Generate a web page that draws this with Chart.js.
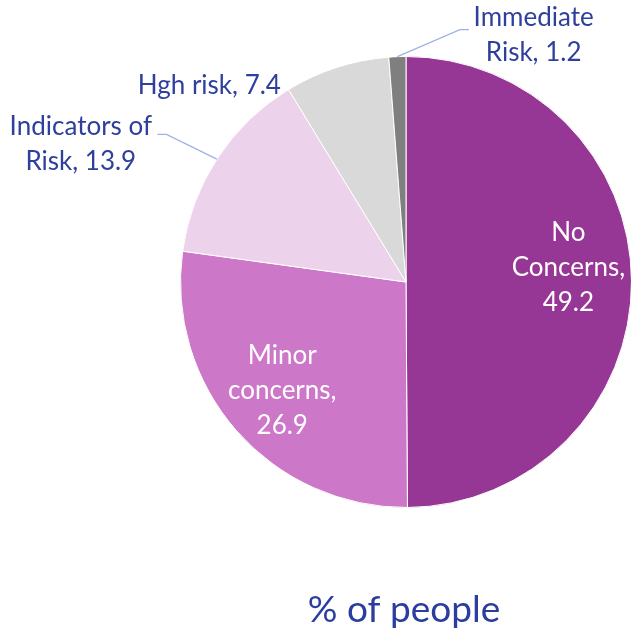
<!DOCTYPE html>
<html>
<head>
<meta charset="utf-8">
<script src="https://cdn.jsdelivr.net/npm/chart.js@4"></script>
<style>
html,body{margin:0;padding:0;background:#fff;overflow:hidden;width:631px;height:635px;}
canvas{display:block;}
</style>
</head>
<body>
<canvas id="c" width="660" height="635"></canvas>
<script>
const categories = ["No Concerns", "Minor concerns", "Indicators of Risk", "Hgh risk", "Immediate Risk"];
const values = [49.2, 26.9, 13.9, 7.4, 1.2];
const labelLines = [["No", "Concerns,", "49.2"], ["Minor", "concerns,", "26.9"], ["Indicators of", "Risk, 13.9"], ["Hgh risk, 7.4"], ["Immediate", "Risk, 1.2"]];
const colors = ["#973795", "#CD77C9", "#EDD2EC", "#D9D9D9", "#7F7F7F"];
const titleText = "% of people";

// label layout (in pie-radius units relative to center)
const labelStyle = [
  {inside: true, rf: 0.72, dy: -14, color: "#ffffff"},
  {inside: true, rf: 0.73, dy: 0, color: "#ffffff"},
  {inside: false, tx: -1.442, ty: -0.611, color: "#2E3F9C", leader: {edgeDeg: 303, elbow: [-1.062, -0.655], end: [-1.102, -0.655]}},
  {inside: false, tx: -0.872, ty: -0.872, color: "#2E3F9C"},
  {inside: false, tx: 0.566, ty: -1.094, color: "#2E3F9C", leader: {edgeDeg: null, elbow: [0.239, -1.119], end: [0.279, -1.119]}}
];
const FONT = "Lato, 'Open Sans', sans-serif";
const LINE_H = 35;

const labelPlugin = {
  id: 'pieLabels',
  afterDatasetsDraw(chart) {
    const ctx = chart.ctx;
    const meta = chart.getDatasetMeta(0);
    ctx.save();
    ctx.font = "26px " + FONT;
    ctx.textAlign = "center";
    ctx.textBaseline = "middle";
    meta.data.forEach((arc, i) => {
      const p = arc.getProps(['x','y','startAngle','endAngle','outerRadius'], true);
      const cx = p.x, cy = p.y, r = p.outerRadius;
      const mid = (p.startAngle + p.endAngle) / 2;
      const st = labelStyle[i];
      const lines = labelLines[i];
      let bx, by;
      if (st.inside) {
        bx = cx + Math.cos(mid) * r * st.rf;
        by = cy + Math.sin(mid) * r * st.rf + st.dy;
      } else {
        bx = cx + st.tx * r;
        by = cy + st.ty * r;
        if (st.leader) {
          const a = st.leader.edgeDeg === null ? mid : (st.leader.edgeDeg - 90) * Math.PI / 180;
          ctx.strokeStyle = "#9FB2E6";
          ctx.lineWidth = 1.3;
          ctx.beginPath();
          ctx.moveTo(cx + Math.cos(a) * r, cy + Math.sin(a) * r);
          ctx.lineTo(cx + st.leader.elbow[0] * r, cy + st.leader.elbow[1] * r);
          ctx.lineTo(cx + st.leader.end[0] * r, cy + st.leader.end[1] * r);
          ctx.stroke();
        }
      }
      ctx.fillStyle = st.color;
      const n = lines.length;
      lines.forEach((t, k) => {
        ctx.fillText(t, bx, by + (k - (n - 1) / 2) * LINE_H);
      });
    });
    // title below pie
    const p0 = meta.data[0].getProps(['x','y','outerRadius'], true);
    ctx.font = "37px " + FONT;
    ctx.fillStyle = "#2B3E9E";
    ctx.textBaseline = "alphabetic";
    ctx.fillText(titleText, p0.x - 2, p0.y + p0.outerRadius + 114);
    ctx.restore();
  }
};

new Chart(document.getElementById('c'), {
  type: 'pie',
  data: {
    labels: categories,
    datasets: [{
      data: values,
      backgroundColor: colors,
      borderColor: "#ffffff",
      borderWidth: 1
    }]
  },
  options: {
    responsive: false,
    animation: false,
    devicePixelRatio: 1,
    layout: {padding: {left: 180, top: 56, right: 28, bottom: 127}},
    plugins: {legend: {display: false}, tooltip: {enabled: false}, title: {display: false}}
  },
  plugins: [labelPlugin]
});
</script>
</body>
</html>
